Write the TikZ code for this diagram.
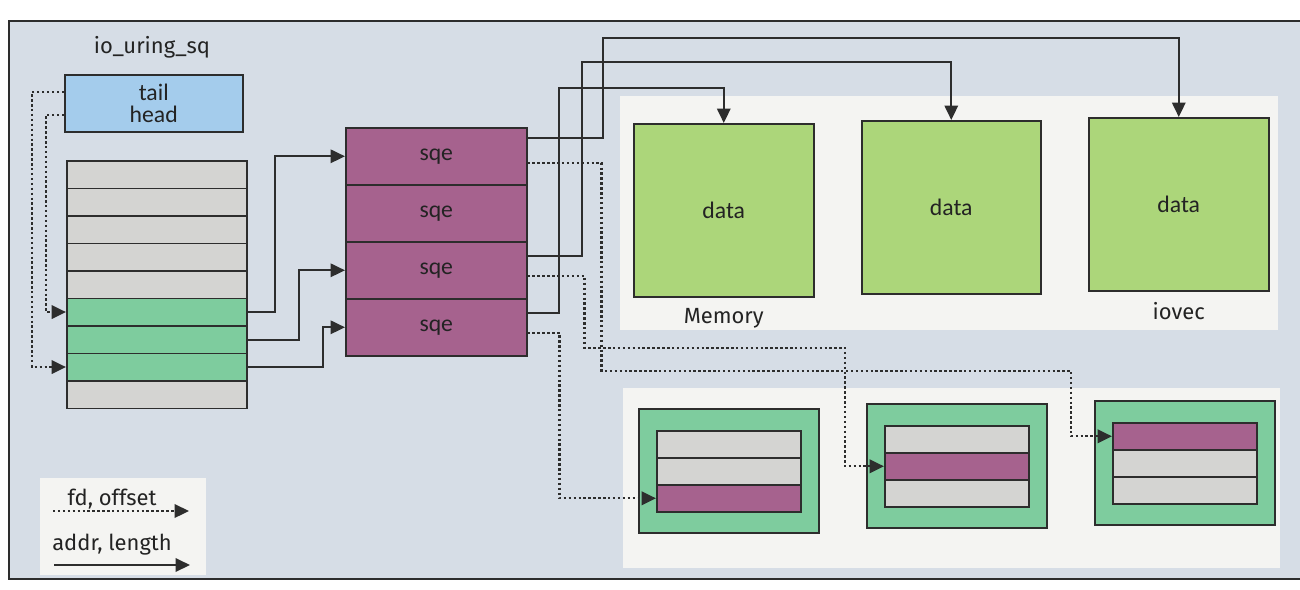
\documentclass[tikz,border=0pt]{standalone}
\usepackage{fontspec}
\setmainfont{Fira Sans}
\newfontfamily\boxfont{Carlito}
\usetikzlibrary{arrows.meta,positioning}
\definecolor{panelbg}{RGB}{214,221,230}
\definecolor{paper}{RGB}{244,244,242}
\definecolor{linegray}{RGB}{45,45,45}
\definecolor{txtgray}{RGB}{35,35,35}
\definecolor{headblue}{RGB}{164,204,236}
\definecolor{slotgray}{RGB}{212,212,210}
\definecolor{slotgreen}{RGB}{126,204,158}
\definecolor{sqepurple}{RGB}{166,98,142}
\definecolor{datagreen}{RGB}{172,214,122}
\tikzset{
  cell/.style={draw=linegray, line width=0.9pt, anchor=north west, inner sep=0pt,
    minimum width=3.6cm, minimum height=0.55cm},
  boxtxt/.style={font=\boxfont\fontsize{13.5}{12.5}\selectfont, align=center},
  addrln/.style={-{Triangle[length=2.9mm,width=2.7mm]}, line width=1.1pt, linegray},
  fdln/.style={addrln, line width=1.3pt, dash pattern=on 1.4pt off 1.4pt},
}

\begin{document}
\begin{tikzpicture}[x=0.02cm, y=-0.02cm, font=\fontsize{12.5}{15}\selectfont, text=txtgray]
  \useasboundingbox (0,0) rectangle (1300,589);
  % page and panels
  \fill[white] (0,0) rectangle (1300,589);
  \fill[panelbg] (9,21) rectangle (1300,579);
  \draw[linegray, line width=0.8pt] (1300,21) -- (9,21) -- (9,579) -- (1300,579);
  \fill[paper] (620,96) rectangle (1278,330);
  \fill[paper] (623,388) rectangle (1280,568);
  \fill[paper] (40,478) rectangle (206,575);

  % io_uring_sq with tail/head
  \node (sqlabel) at (152,47) {io\_uring\_sq};
  \node[cell, fill=headblue, minimum width=3.56cm, minimum height=1.14cm, boxtxt] (sqring) at (64,74) {tail\\head};

  % ring of slots
  \foreach \i/\c in {0/slotgray,1/slotgray,2/slotgray,3/slotgray,4/slotgray,5/slotgreen,6/slotgreen,7/slotgreen,8/slotgray}
    \node[cell, fill=\c] (ring\i) at (66,160+27.5*\i) {};

  % sqe array
  \foreach \i in {0,...,3}
    \node[cell, fill=sqepurple, minimum width=3.62cm, minimum height=1.14cm, boxtxt] (sqe\i) at (345,127+57*\i) {sqe};

  % data buffers
  \node[cell, fill=datagreen, minimum height=3.46cm, boxtxt] (data1) at (633,123) {data};
  \node[cell, fill=datagreen, minimum width=3.58cm, minimum height=3.46cm, boxtxt] (data2) at (861,120) {data};
  \node[cell, fill=datagreen, minimum height=3.46cm, boxtxt] (data3) at (1088,117) {data};
  \node[below=1mm of data1] (memlabel) {Memory};
  \node[below=1mm of data3] (ioveclabel) {iovec};

  % files
  \foreach \n/\x/\y/\ca/\cb/\cc in {a/638/408/slotgray/slotgray/sqepurple,
      b/866/403/slotgray/sqepurple/slotgray, c/1094/400/sqepurple/slotgray/slotgray} {
    \node[cell, fill=slotgreen, minimum height=2.48cm] (frame\n) at (\x,\y) {};
    \node[cell, fill=\ca, minimum width=2.88cm, minimum height=0.54cm] (\n0) at (\x+18,\y+22) {};
    \node[cell, fill=\cb, minimum width=2.88cm, minimum height=0.54cm] (\n1) at (\x+18,\y+49) {};
    \node[cell, fill=\cc, minimum width=2.88cm, minimum height=0.54cm] (\n2) at (\x+18,\y+76) {};
  }

  % tail/head into the ring
  \draw[fdln] ([yshift=0.23cm]sqring.west) -- ++(-32,0) |- (ring7.west);
  \draw[fdln] ([yshift=-0.23cm]sqring.west) -- ++(-18,0) |- (ring5.west);

  % ring entries to sqes
  \draw[addrln] (ring5.east) -- ++(27,0) |- (sqe0.west);
  \draw[addrln] (ring6.east) -- ++(51,0) |- (sqe2.west);
  \draw[addrln] (ring7.east) -- ++(75,0) |- (sqe3.west);

  % addr, length
  \draw[addrln] ([yshift=0.37cm]sqe0.east) -- ++(75,0) |- ([yshift=1.58cm]data3.north) -- (data3.north);
  \draw[addrln] ([yshift=0.29cm]sqe2.east) -- ++(54,0) |- ([yshift=1.16cm]data2.north) -- (data2.north);
  \draw[addrln] ([yshift=0.29cm]sqe3.east) -- ++(31,0) |- ([yshift=0.7cm]data1.north) -- (data1.north);

  % fd, offset
  \draw[fdln] ([yshift=-0.13cm]sqe0.east) -- ++(74,0) -- ++(0,208) -| ([xshift=-0.82cm]c0.west) -- (c0.west);
  \draw[fdln] ([yshift=-0.11cm]sqe2.east) -- ++(57,0) -- ++(0,72) -| ([xshift=-0.78cm]b1.west) -- (b1.west);
  \draw[fdln] ([yshift=-0.11cm]sqe3.east) -- ++(32,0) |- (a2.west);

  % legend
  \node (fdlabel) at (112,499) {fd, offset};
  \coordinate (fdfrom) at (53,511);
  \coordinate (fdto) at (189,511);
  \draw[fdln] (fdfrom) -- (fdto);
  \node (addrlabel) at (112,545) {addr, length};
  \coordinate (addrfrom) at (54,565);
  \coordinate (addrto) at (190,565);
  \draw[addrln] (addrfrom) -- (addrto);
\end{tikzpicture}
\end{document}
